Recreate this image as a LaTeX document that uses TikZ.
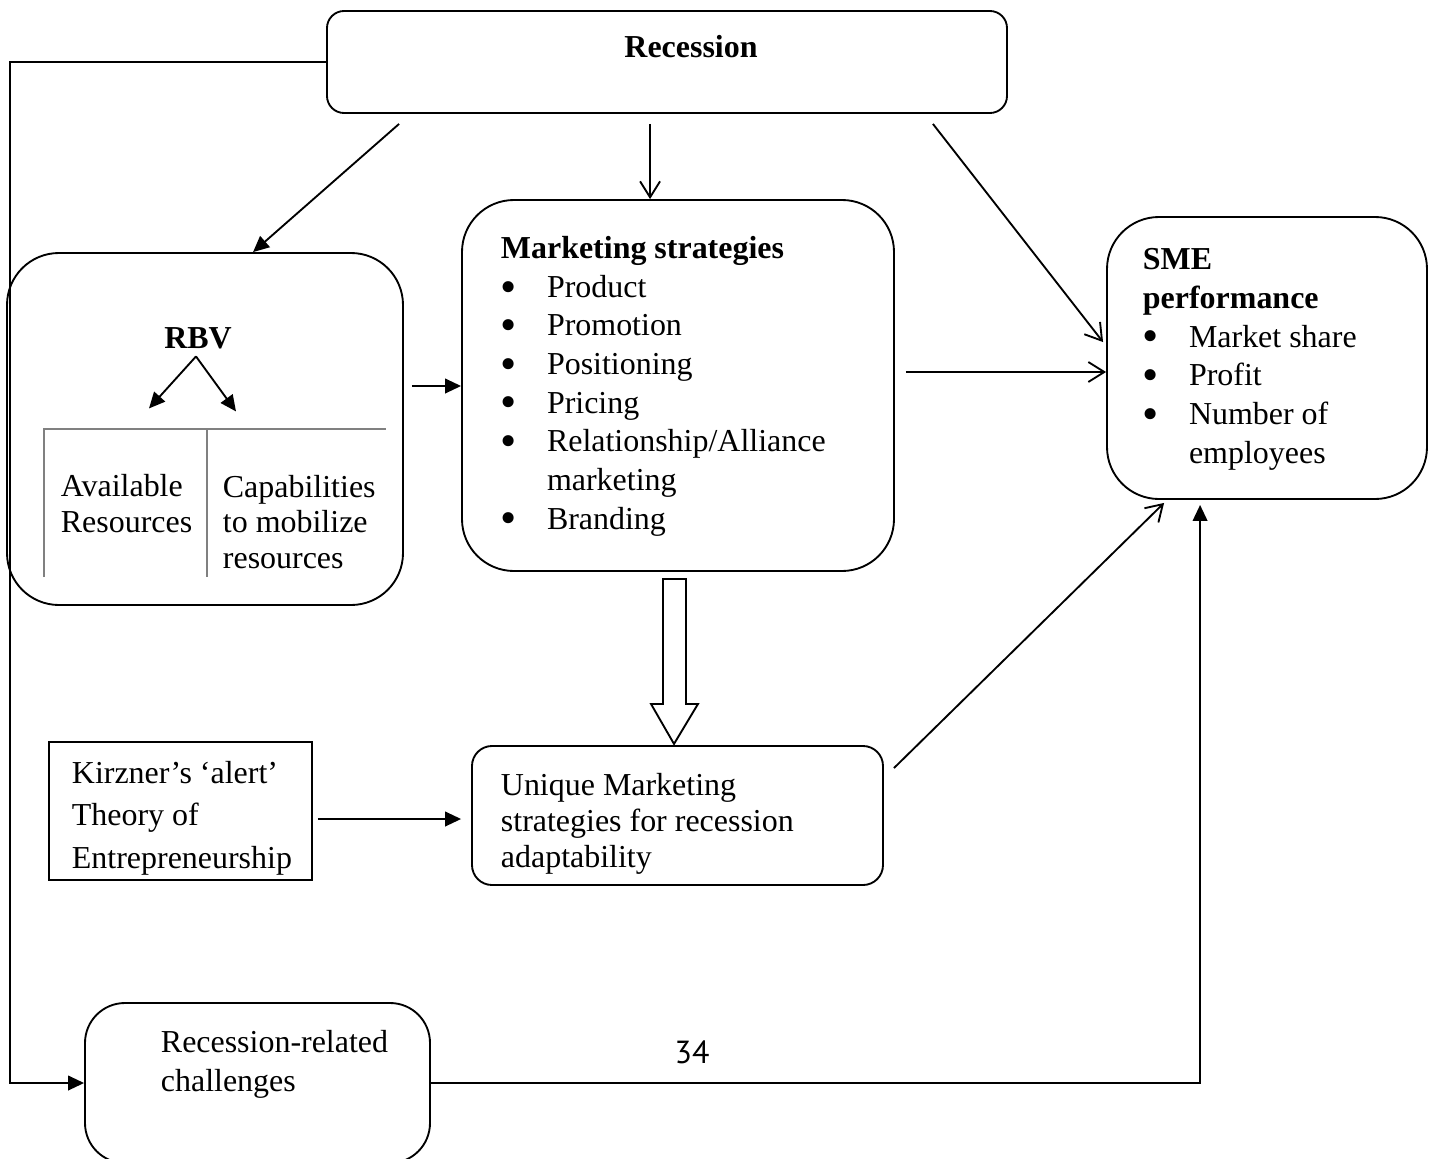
\documentclass[tikz,border=0pt]{standalone}
\usepackage{fontspec}
\setmainfont{Liberation Serif}
\newfontfamily\pagefont{PT Sans}
\usetikzlibrary{fit,calc,arrows.meta}
\newcommand{\bul}{\makebox[17.3pt][l]{\smash{\raisebox{-1.8pt}{\scalebox{1.45}{\textbullet}}}}}

\begin{document}
\begin{tikzpicture}[x=0.3755pt,y=-0.3755pt,line width=0.7pt,
		box/.style={draw,inner sep=0pt,rounded corners=#1},
		txt/.style={inner sep=0pt,anchor=base west,align=left,font=\fontsize{12}{#1}\selectfont},
		txt/.default=14.5pt,
		fillarrow/.style={-{Triangle[length=6pt,width=5.5pt]}},
		openarrow/.style={-{Straight Barb[length=6pt,width=7.5pt]}}]
	\useasboundingbox (0,0) rectangle (1436,1158);

	\node[box=6.4pt,fit={(327,11) (1007,113)}]		(0)	{};
	\node[box=19.5pt,fit={(7,253) (403,605)}]		(1)	{};
	\node[box=19.5pt,fit={(462,200) (894,571)}]		(2)	{};
	\node[box=19.5pt,fit={(1107,217) (1427,499)}]	(3)	{};
	\node[box=0pt,fit={(49,742) (312,880)}]			(4)	{};
	\node[box=7.5pt,fit={(472,746) (883,885)}]		(5)	{};
	\node[box=15pt,fit={(85,1003) (430,1163)}]		(6)	{};

	\node[txt,anchor=base]		(0l)	at (691,57)		{\bfseries Recession};
	\node[txt,anchor=base]		(1l)	at (198,348)	{\bfseries RBV};
	\node[txt=13.3pt]			(1a)	at (60,532)		{Available\\Resources};
	\node[txt=13.3pt]			(1b)	at (222,568)	{Capabilities\\to mobilize\\resources};
	\node[txt]					(2l)	at (500,529)	{\textbf{Marketing strategies}\\
		\bul Product\\ \bul Promotion\\ \bul Positioning\\ \bul Pricing\\
		\bul Relationship/Alliance\\ \hspace*{17.3pt}marketing\\ \bul Branding};
	\node[txt]					(3l)	at (1142,463)	{\textbf{SME}\\ \textbf{performance}\\
		\bul Market share\\ \bul Profit\\ \bul Number of\\ \hspace*{17.3pt}employees};
	\node[txt=15.8pt]			(4l)	at (71,868)		{Kirzner’s ‘alert’\\Theory of\\Entrepreneurship};
	\node[txt=13.5pt]			(5l)	at (500,867)	{Unique Marketing\\strategies for recession\\adaptability};
	\node[txt=14.3pt]			(6l)	at (160,1091)	{Recession-related\\challenges};
	\node[txt,anchor=base]		(pg)	at (692,1063)	{\pagefont 34};

	\draw[gray,line width=0.6pt] (44,577) |- (386,429) (207,429) -- (207,577);
	\coordinate (v) at ($(1l.south)+(-2,7)$);
	\draw[fillarrow] (v) -- ++(-47,52);
	\draw[fillarrow] (v) -- ++(40,55);

	\draw[fillarrow] (0.west) -- ++(-316,0) |- (6.west);
	\draw[fillarrow] ($(0.south west)+(73,10)$) -- ($(1.north west)+(247,0)$);
	\draw[openarrow] ($(0.south west)+(324,10)$) coordinate (a) -- (a |- 2.north);
	\draw[openarrow] ($(0.south east)+(-75,10)$) -- ($(3.north west)+(-3,126)$);
	\draw[fillarrow] ($(1.east)+(8,-43)$) coordinate (b) -- (b -| 2.west);
	\draw[openarrow] ($(2.east)+(11,-13.5)$) coordinate (c) -- (c -| 3.west);
	\draw ($(2.south)+(-15,7)$) -- ++(23,0) -- ++(0,125) -- ++(12,0) -- ++(-24,40) -- ++(-23,-40) -- ++(12,0) -- cycle;
	\draw[fillarrow,shorten >=3.75pt] ($(4.east)+(5,8)$) coordinate (d) -- (d -| 5.west);
	\draw[openarrow] ($(5.north east)+(10,23)$) -- ($(3.south west)+(58,3)$);
	\draw[fillarrow] (6.east) -| ($(3.south west)+(94,5)$);
\end{tikzpicture}
\end{document}
